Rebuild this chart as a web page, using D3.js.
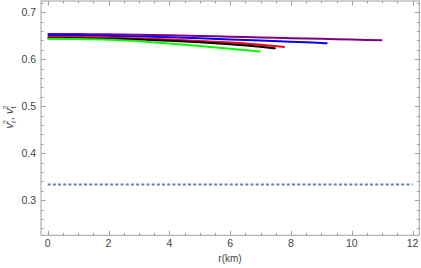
<!DOCTYPE html>
<html><head><meta charset="utf-8">
<script src="https://cdn.jsdelivr.net/npm/d3@7"></script>
<style>body{margin:0;background:#fff}svg{display:block}</style>
</head><body>
<script>
const r = [0, 1, 2, 3, 4, 5, 6, 7, 8, 9, 10, 11];
const purple = [0.654, 0.6537, 0.653, 0.652, 0.651, 0.6495, 0.648, 0.6465, 0.645, 0.6435, 0.642, 0.6405];
const blueR = [0, 1, 2, 3, 4, 5, 6, 7, 8, 9, 9.2];
const blue = [0.651, 0.6506, 0.6498, 0.6485, 0.6468, 0.6446, 0.6422, 0.6398, 0.6374, 0.6347, 0.634];
const redR = [0, 1, 2, 3, 4, 5, 6, 7, 7.8];
const red = [0.6474, 0.6469, 0.646, 0.6443, 0.642, 0.639, 0.6355, 0.631, 0.626];
const blackR = [0, 1, 2, 3, 4, 5, 6, 7, 7.5];
const black = [0.645, 0.6446, 0.6437, 0.642, 0.6395, 0.636, 0.6318, 0.6265, 0.6232];
const greenR = [0, 1, 2, 3, 4, 5, 6, 7];
const green = [0.6435, 0.643, 0.6415, 0.6385, 0.6335, 0.628, 0.6225, 0.6165];
const dashedR = [0, 12];
const dashed = [1/3, 1/3];
const xTicks = [0, 2, 4, 6, 8, 10, 12];
const yTicks = [0.3, 0.4, 0.5, 0.6, 0.7];

const W = 421, H = 268;
const svg = d3.select("body").append("svg").attr("width", W).attr("height", H);
const x = d3.scaleLinear().domain([-0.22, 12.22]).range([41, 419.3]);
const y = d3.scaleLinear().domain([0.2255, 0.724]).range([235.3, 1]);
const frameCol = "#a0a0a0", textCol = "#444";

svg.append("rect").attr("x", x.range()[0]).attr("y", y.range()[1])
  .attr("width", x.range()[1]-x.range()[0]).attr("height", y.range()[0]-y.range()[1])
  .attr("fill", "none").attr("stroke", frameCol).attr("stroke-width", 1);

const xMinor = d3.range(0, 12.01, 0.5);
const yMinor = d3.range(0.24, 0.7201, 0.02);
const tg = svg.append("g").attr("stroke", frameCol).attr("stroke-width", 1);
xMinor.forEach(v => {
  const major = Math.abs(v/2 - Math.round(v/2)) < 1e-6;
  const L = major ? 4.5 : 2.5;
  const px = Math.round(x(v)) + 0.5;
  tg.append("line").attr("x1", px).attr("x2", px).attr("y1", y.range()[0]).attr("y2", y.range()[0]-L);
  tg.append("line").attr("x1", px).attr("x2", px).attr("y1", y.range()[1]).attr("y2", y.range()[1]+L);
});
yMinor.forEach(v => {
  const major = Math.abs(v*10 - Math.round(v*10)) < 1e-6;
  const L = major ? 4.5 : 2.5;
  const py = Math.round(y(v)) + 0.5;
  tg.append("line").attr("x1", x.range()[0]).attr("x2", x.range()[0]+L).attr("y1", py).attr("y2", py);
  tg.append("line").attr("x1", x.range()[1]).attr("x2", x.range()[1]-L).attr("y1", py).attr("y2", py);
});

const font = "Liberation Sans, Arial, sans-serif";
svg.append("g").selectAll("text").data(xTicks).join("text")
  .attr("x", d => x(d)).attr("y", 247).attr("text-anchor", "middle")
  .attr("font-family", font).attr("font-size", 10.5).attr("fill", textCol).text(d => d);
svg.append("g").selectAll("text").data(yTicks).join("text")
  .attr("x", 36).attr("y", d => y(d) + 3.8).attr("text-anchor", "end")
  .attr("font-family", font).attr("font-size", 10.5).attr("fill", textCol).text(d => d.toFixed(1));

svg.append("text").attr("x", 230).attr("y", 262).attr("text-anchor", "middle")
  .attr("font-family", font).attr("font-size", 10).attr("fill", textCol).text("r(km)");
const yl = svg.append("text").attr("transform", "translate(13,117) rotate(-90)")
  .attr("text-anchor", "middle").attr("font-family", font).attr("font-size", 11).attr("fill", textCol);
yl.append("tspan").attr("font-style", "italic").text("v");
yl.append("tspan").attr("font-size", 7.5).attr("dy", 2.5).text("r");
yl.append("tspan").attr("font-size", 7.5).attr("dy", -7.5).attr("dx", -3.8).text("2");
yl.append("tspan").attr("dy", 5).text(", ");
yl.append("tspan").attr("font-style", "italic").text("v");
yl.append("tspan").attr("font-size", 7.5).attr("dy", 2.5).text("t");
yl.append("tspan").attr("font-size", 7.5).attr("dy", -7.5).attr("dx", -3.2).text("2");

const line = d3.line().x(d => x(d[0])).y(d => y(d[1])).curve(d3.curveMonotoneX);
const series = [
  [r, purple, "#800080"],
  [blueR, blue, "#0000ff"],
  [redR, red, "#ff0000"],
  [blackR, black, "#000000"],
  [greenR, green, "#00ff00"]
];
const g = svg.append("g");
series.forEach(([xs, ys, c]) => {
  g.append("path").attr("d", line(xs.map((v, i) => [v, ys[i]])))
    .attr("fill", "none").attr("stroke", c).attr("stroke-width", 2);
});
svg.append("path").attr("d", line(dashedR.map((v, i) => [v, dashed[i]])))
  .attr("fill", "none").attr("stroke", "#5e81b5").attr("stroke-width", 2)
  .attr("stroke-dasharray", "3,2.2");
</script>
</body></html>
